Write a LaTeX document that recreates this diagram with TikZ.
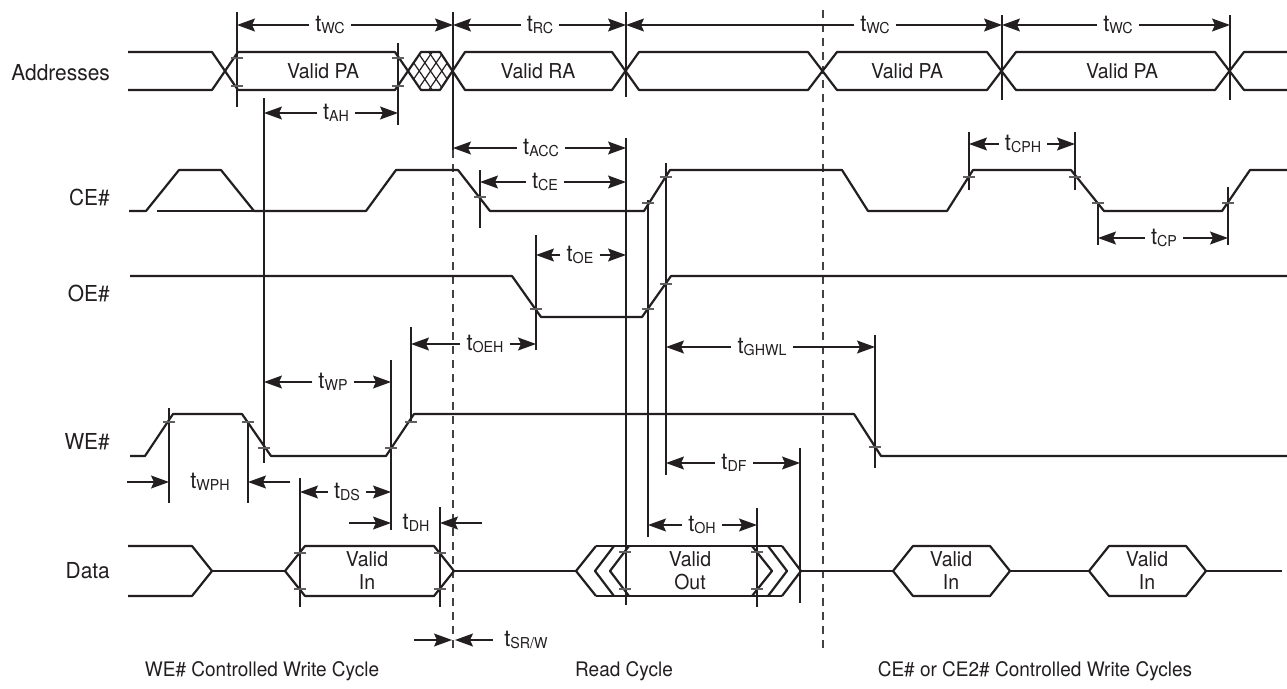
\documentclass[tikz,border=0pt]{standalone}
\usepackage{fontspec}
\setmainfont{TeX Gyre Heros}[FakeStretch=0.95]
\usetikzlibrary{arrows.meta}
\definecolor{ink}{RGB}{35,31,32}
\definecolor{tickc}{RGB}{95,95,95}
\newcommand{\myfont}{\fontsize{20.5}{23}\selectfont}
\newcommand{\rowfont}{\fontsize{22}{24}\selectfont}
\newcommand{\capfont}{\fontsize{20}{23}\selectfont}
\newcommand{\tlab}[1]{{\fontsize{23}{23}\selectfont t}\raisebox{-2pt}{\fontsize{15}{15}\selectfont #1}}
% dimension arrow with label inside: name, y, xL, xR, label x, text
\newcommand{\dimin}[6]{%
  \node[lbl] (#1) at (#5,#2) {#6};
  \coordinate (#1L) at (#3,#2);
  \coordinate (#1R) at (#4,#2);
  \draw[dim] (#1) -- (#1L);
  \draw[dim] (#1) -- (#1R);}
% dimension arrows pointing inward from outside: name, y, xL, xR, label x, text, length
\newcommand{\dimout}[7]{%
  \node[lbl] (#1) at (#5,#2) {#6};
  \coordinate (#1L) at (#3,#2);
  \coordinate (#1R) at (#4,#2);
  \coordinate (#1LL) at (#3-#7,#2);
  \coordinate (#1RR) at (#4+#7,#2);
  \draw[dim] (#1LL) -- (#1L);
  \draw[dim] (#1RR) -- (#1R);}
\begin{document}
\begin{tikzpicture}[x=1pt,y=-1pt,
  sig/.style={line width=2.2pt,draw=ink,line join=round},
  thin/.style={line width=1.1pt,draw=ink},
  dashln/.style={line width=1.2pt,draw=ink!85,dash pattern=on 8pt off 6pt},
  dim/.style={line width=1.1pt,draw=ink,-{Stealth[length=18pt,width=13pt,inset=3pt]}},
  tk/.style={line width=1.3pt,draw=tickc},
  hatch/.style={line width=1.2pt,draw=ink},
  lbl/.style={inner xsep=6pt,inner ysep=1pt,text=ink},
  txt/.style={font=\myfont,text=ink,inner sep=0pt},
  captxt/.style={font=\capfont,text=ink,inner sep=0pt,anchor=base},
  rowlbl/.style={font=\rowfont,text=ink,inner sep=0pt,anchor=base east}]
\useasboundingbox (0,0) rectangle (1287,688);
\fill[white] (0,0) rectangle (1287,688);

% ---------- row labels ----------
\node[rowlbl] (lAddr) at (110,80) {Addresses};
\node[rowlbl] (lCE) at (110,205) {CE\#};
\node[rowlbl] (lOE) at (110,301) {OE\#};
\node[rowlbl] (lWE) at (110,449) {WE\#};
\node[rowlbl] (lData) at (110,578) {Data};

% ---------- bottom captions ----------
\node[captxt] (cap1) at (262,676) {WE\# Controlled Write Cycle};
\node[captxt] (cap2) at (624,676) {Read Cycle};
\node[captxt] (cap3) at (1035,676) {CE\# or CE2\# Controlled Write Cycles};

% ---------- dashed cycle separators ----------
\draw[dashln] (453,150) -- (453,648);
\draw[dashln] (823,10) -- (823,648);

% ---------- thin reference lines ----------
\foreach \x/\a/\b in {237/12/107, 398/43/125, 453/12/150, 626/12/97, 626/138/605,
  1002/15/100, 1230/15/100, 264/98/463, 480/170/228, 648/200/537, 666/163/475,
  969/132/190, 1075/132/190, 1098/203/245, 1228/187/245, 536/235/350, 411/327/423,
  875/335/468, 391/360/530, 169/408/503, 248/422/503, 800/448/603, 300/478/607,
  440/507/607, 757/508/607}
  \draw[thin] (\x,\a) -- (\x,\b);

% ---------- Addresses ----------
\draw[sig] (128,52) -- (212,52) -- (238,90) -- (395,90) -- (421,52) -- (440,52) -- (465,90)
  -- (612,90) -- (639,52) -- (808,52) -- (837,90) -- (987,90) -- (1016,52) -- (1215,52)
  -- (1244,90) -- (1287,90);
\draw[sig] (128,90) -- (212,90) -- (238,52) -- (395,52) -- (421,90) -- (440,90) -- (465,52)
  -- (612,52) -- (639,90) -- (808,90) -- (837,52) -- (987,52) -- (1016,90) -- (1215,90)
  -- (1244,52) -- (1287,52);
\begin{scope}
  \clip (408,71) -- (421,52) -- (440,52) -- (452.5,71) -- (440,90) -- (421,90) -- cycle;
  \foreach \s in {406.25,417.5,428.75} {
    \draw[hatch] (\s,52) -- ++(26,38);
    \draw[hatch] (\s,90) -- ++(26,-38);
  }
\end{scope}
\node[txt] (apa1) at (323,71) {Valid PA};
\node[txt] (ara) at (538,71) {Valid RA};
\node[txt] (apa2) at (907,71) {Valid PA};
\node[txt] (apa3) at (1122,71) {Valid PA};

% ---------- CE# ----------
\draw[sig] (129,211) -- (146,211) -- (179,170) -- (221,170) -- (254,211) -- (366,211)
  -- (396,170) -- (458,170) -- (490,211) -- (644,211) -- (670,170) -- (842,170)
  -- (868,211) -- (947,211) -- (973,170) -- (1071,170) -- (1104,211) -- (1222,211)
  -- (1250,170) -- (1287,170);
\draw[sig] (157,211) -- (254,211);

% ---------- OE# ----------
\draw[sig] (130,276) -- (512,276) -- (541,317) -- (642,317) -- (671,276) -- (1287,276);

% ---------- WE# ----------
\draw[sig] (130,456) -- (145,456) -- (173,414) -- (242,414) -- (271,456) -- (386,456)
  -- (414,414) -- (854,414) -- (881,456) -- (1287,456);

% ---------- Data ----------
\draw[sig] (128,546) -- (192,546) -- (212,571) -- (192,596) -- (128,596);
\draw[sig] (212,571) -- (285,571);
\draw[sig] (285,571) -- (305,546) -- (434,546) -- (454,571) -- (434,596) -- (305,596) -- cycle;
\draw[sig] (454,571) -- (576,571);
\draw[sig] (596,546) -- (576,571) -- (596,596);
\draw[sig] (614,546) -- (595,571) -- (614,596);
\draw[sig] (629,546) -- (610,571) -- (629,596);
\draw[sig] (596,546) -- (782,546);
\draw[sig] (596,596) -- (782,596);
\draw[sig] (752,546) -- (772,571) -- (752,596);
\draw[sig] (768,546) -- (787,571) -- (768,596);
\draw[sig] (782,546) -- (801,571) -- (782,596);
\draw[sig] (801,571) -- (893,571);
\draw[sig] (893,571) -- (913,546) -- (990,546) -- (1010,571) -- (990,596) -- (913,596) -- cycle;
\draw[sig] (1010,571) -- (1089,571);
\draw[sig] (1089,571) -- (1109,546) -- (1186,546) -- (1206,571) -- (1186,596) -- (1109,596) -- cycle;
\draw[sig] (1206,571) -- (1282,571);
\node[txt,align=center] (din1) at (367,571) {Valid\\In};
\node[txt,align=center] (dout) at (690,571) {Valid\\Out};
\node[txt,align=center] (din2) at (951,571) {Valid\\In};
\node[txt,align=center] (din3) at (1147,571) {Valid\\In};

% ---------- threshold ticks ----------
\foreach \x/\y in {237/58, 237/86, 398/58, 398/86,
  480/197, 648/203, 666/177, 969/177, 1075/177, 1098/203, 1228/203,
  536/309, 648/309, 666/284,
  169/422, 248/422, 264/448, 391/448, 411/422, 875/447,
  300/553, 300/589, 440/553, 440/589, 625/552, 625/589, 757/552, 757/589}
  \draw[tk] (\x-6,\y) -- (\x+6,\y);

% ---------- timing dimensions ----------
\dimin{twc1}{25}{237}{453}{330}{\tlab{WC}}
\dimin{trc}{25}{453}{626}{540}{\tlab{RC}}
\dimin{twc2}{25}{626}{1002}{875}{\tlab{WC}}
\dimin{twc3}{25}{1002}{1230}{1118}{\tlab{WC}}
\dimin{tah}{113}{264}{398}{336}{\tlab{AH}}
\dimin{tacc}{148}{453}{626}{541}{\tlab{ACC}}
\dimin{tce}{182}{480}{626}{545}{\tlab{CE}}
\dimin{tcph}{144}{969}{1075}{1023}{\tlab{CPH}}
\dimin{tcp}{238}{1098}{1228}{1164}{\tlab{CP}}
\dimin{toe}{255}{536}{626}{580}{\tlab{OE}}
\dimin{toeh}{344}{411}{536}{485}{\tlab{OEH}}
\dimin{tghwl}{347}{666}{875}{762}{\tlab{GHWL}}
\dimin{twp}{382}{264}{391}{333}{\tlab{WP}}
\dimin{tdf}{463}{666}{800}{734}{\tlab{DF}}
\dimin{tds}{492}{300}{391}{347}{\tlab{DS}}
\dimin{toh}{525}{648}{757}{702}{\tlab{OH}}
\dimout{twph}{482}{169}{248}{210}{\tlab{WPH}}{42}
\dimout{tdh}{523}{391}{440}{416}{\tlab{DH}}{42}
\dimout{tsrw}{640}{452}{455}{526}{\tlab{SR/W}}{38}
\end{tikzpicture}
\end{document}
